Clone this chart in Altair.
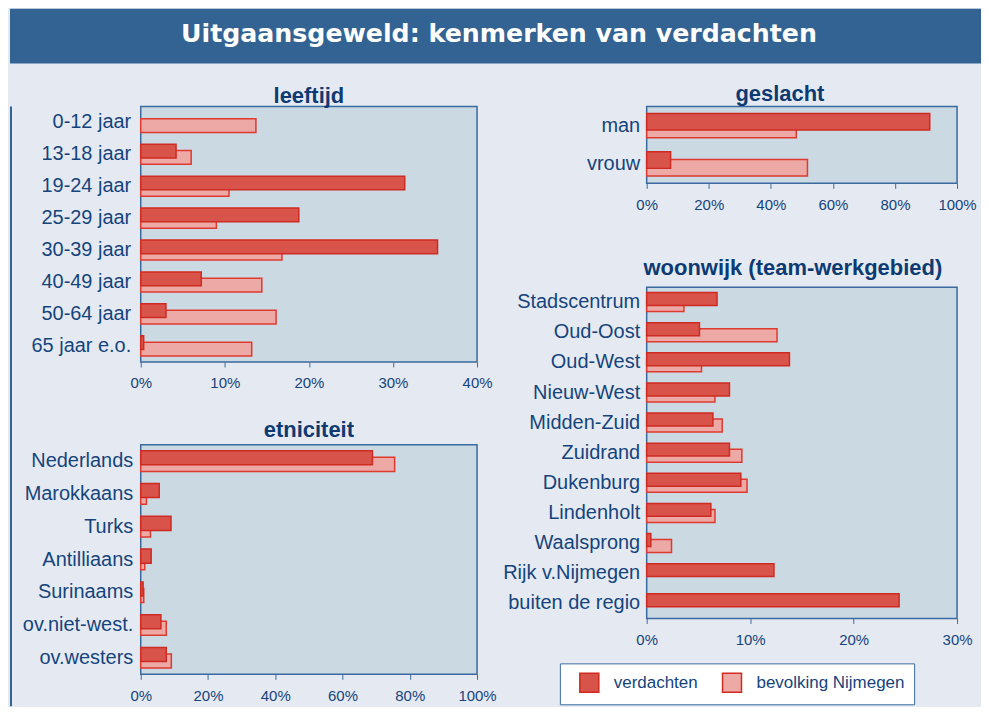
import altair as alt
import pandas as pd

TITLE = "Uitgaansgeweld: kenmerken van verdachten"
SERIES = ["verdachten", "bevolking Nijmegen"]

leeftijd_cats = ["0-12 jaar", "13-18 jaar", "19-24 jaar", "25-29 jaar",
                 "30-39 jaar", "40-49 jaar", "50-64 jaar", "65 jaar e.o."]
leeftijd_verd = [0, 4.2, 31.4, 18.8, 35.3, 7.2, 3.0, 0.35]
leeftijd_bev = [13.7, 6.0, 10.5, 9.0, 16.8, 14.4, 16.1, 13.2]

geslacht_cats = ["man", "vrouw"]
geslacht_verd = [91.2, 7.7]
geslacht_bev = [48.2, 51.8]

etn_cats = ["Nederlands", "Marokkaans", "Turks", "Antilliaans",
            "Surinaams", "ov.niet-west.", "ov.westers"]
etn_verd = [68.9, 5.5, 9.0, 3.1, 0.7, 6.0, 7.6]
etn_bev = [75.5, 1.7, 2.9, 1.2, 0.9, 7.6, 9.1]

wijk_cats = ["Stadscentrum", "Oud-Oost", "Oud-West", "Nieuw-West",
             "Midden-Zuid", "Zuidrand", "Dukenburg", "Lindenholt",
             "Waalsprong", "Rijk v.Nijmegen", "buiten de regio"]
wijk_verd = [6.8, 5.1, 13.8, 8.0, 6.4, 8.0, 9.1, 6.2, 0.4, 12.3, 24.4]
wijk_bev = [3.6, 12.6, 5.3, 6.6, 7.3, 9.2, 9.7, 6.6, 2.4, 0, 0]

FONT = "Liberation Sans"
HEADER = "#336392"
BG = "#e5eaf2"
PLOT_BG = "#cbd9e3"
BORDER = "#3a6a9f"
TEXT = "#15447d"
TITLE_C = "#0d3a72"
VERD_FILL = "#d8534a"
VERD_STROKE = "#cf2b22"
BEV_FILL = "#eca9a5"
BEV_STROKE = "#de3a30"

legend = alt.Legend(orient="none", legendX=-87, legendY=377, direction="horizontal",
                    title=None, fillColor="white", strokeColor=BORDER, padding=9,
                    symbolType="square", symbolSize=361, symbolStrokeColor=VERD_STROKE,
                    symbolStrokeWidth=1.5, symbolOffset=10, labelFont=FONT,
                    labelFontSize=17, labelColor=TEXT, labelOffset=14, columnPadding=13)


def panel(title, cats, verd, bev, xmax, step, width, height, ext, lpad,
          tdx=0, toff=4, leg=None):
    rows = []
    for c, v, b in zip(cats, verd, bev):
        rows.append({"cat": c, "serie": SERIES[1], "val": b})
        rows.append({"cat": c, "serie": SERIES[0], "val": v})
    df = pd.DataFrame(rows)
    band = height / len(cats)
    y = alt.Y("cat:N", sort=cats,
              scale=alt.Scale(paddingInner=0, paddingOuter=0),
              axis=alt.Axis(title=None, ticks=False, domain=False, labelPadding=lpad,
                            minExtent=ext, maxExtent=ext, labelFont=FONT,
                            labelFontSize=20, labelColor=TEXT))
    x = alt.X("val:Q", scale=alt.Scale(domain=[0, xmax], nice=False),
              axis=alt.Axis(title=None, values=list(range(0, xmax + 1, step)),
                            labelExpr="datum.value + '%'", grid=False, domain=False,
                            tickSize=5, tickColor=BORDER, labelFlush=False,
                            labelPadding=9, labelFont=FONT, labelFontSize=15,
                            labelColor=TEXT))
    color = alt.Color("serie:N",
                      scale=alt.Scale(domain=SERIES, range=[VERD_FILL, BEV_FILL]),
                      legend=leg)
    base = alt.Chart(df)
    bev_layer = base.transform_filter(
        f"datum.serie == '{SERIES[1]}' && datum.val > 0"
    ).mark_bar(height=alt.RelativeBandSize(0.43), yOffset=0.095 * band,
               stroke=BEV_STROKE, strokeWidth=1.5).encode(x=x, y=y, color=color)
    verd_layer = base.transform_filter(
        f"datum.serie == '{SERIES[0]}' && datum.val > 0"
    ).mark_bar(height=alt.RelativeBandSize(0.43), yOffset=-0.105 * band,
               stroke=VERD_STROKE, strokeWidth=1.5).encode(x=x, y=y, color=color)
    return alt.layer(bev_layer, verd_layer).properties(
        width=width, height=height,
        title=alt.Title(title, font=FONT, fontSize=22, fontWeight="bold", color=TITLE_C,
                        frame="group", anchor="middle", dx=tdx, offset=toff,
                        baseline="alphabetic"),
        view=alt.ViewBackground(fill=PLOT_BG, stroke=BORDER, strokeWidth=1.5),
    )


p1 = panel("leeftijd", leeftijd_cats, leeftijd_verd, leeftijd_bev, 40, 10, 337, 256, 125, 10, 0, -18)
p3 = panel("etniciteit", etn_cats, etn_verd, etn_bev, 100, 20, 337, 230, 125, 8, 0, -14)
p2 = panel("geslacht", geslacht_cats, geslacht_verd, geslacht_bev, 100, 20, 311, 77, 135, 7, -22, -16)
p4 = panel("woonwijk (team-werkgebied)", wijk_cats, wijk_verd, wijk_bev, 30, 10, 311, 332,
           135, 7, -9, -10, legend)

header = alt.Chart(pd.DataFrame({"t": [TITLE]})).mark_text(
    font="DejaVu Sans", fontWeight="bold", fontSize=25.3, color="white",
    baseline="alphabetic", align="center"
).encode(text="t:N", x=alt.value(490), y=alt.value(33)).properties(
    width=973, height=55, view=alt.ViewBackground(fill=HEADER, strokeWidth=0)
)

strip = alt.Chart(pd.DataFrame({"s": [0]})).mark_point(opacity=0).encode(
    x=alt.value(1)
).properties(width=2, height=601, view=alt.ViewBackground(fill=HEADER, strokeWidth=0))

left = alt.vconcat(p1, p3, spacing=26).resolve_scale(color="independent")
right = alt.vconcat(p2, p4, spacing=43).resolve_scale(color="independent")
inner = alt.hconcat(left, right, spacing=4).resolve_scale(color="independent")
body = alt.hconcat(strip, inner, spacing=1).resolve_scale(color="independent")

chart = alt.vconcat(header, body, spacing=18).resolve_scale(color="independent").properties(
    padding=0, background=BG
).configure_view(strokeWidth=0)

chart.save("out.html", embed_options={"renderer": "svg", "actions": False})
